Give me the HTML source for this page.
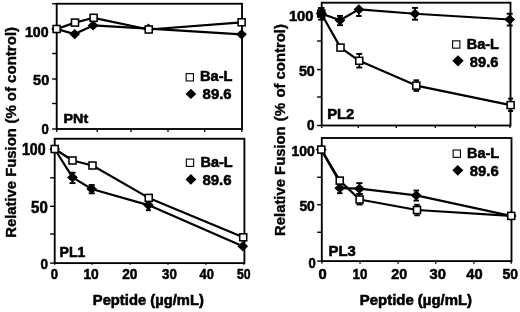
<!DOCTYPE html>
<html><head><meta charset="utf-8"><title>Figure</title>
<style>
html,body{margin:0;padding:0;background:#fff;}
svg{display:block;filter:grayscale(1) blur(0.3px);}
text{font-family:"Liberation Sans",Arial,Helvetica,sans-serif;font-weight:bold;fill:#000;stroke:#000;stroke-width:0.55px;}
text.v{stroke-width:0.35px;}
</style></head><body>
<svg width="520" height="312" viewBox="0 0 520 312" stroke="#000">
<rect x="0" y="0" width="520" height="312" fill="#fff" stroke="none"/>
<rect x="56.70" y="3.75" width="185.30" height="125.25" fill="none" stroke-width="1.85"/>
<line x1="56.80" y1="129.00" x2="56.80" y2="132.00" stroke-width="1.3"/>
<line x1="97.20" y1="129.00" x2="97.20" y2="132.00" stroke-width="1.3"/>
<line x1="131.00" y1="129.00" x2="131.00" y2="132.00" stroke-width="1.3"/>
<line x1="168.00" y1="129.00" x2="168.00" y2="132.00" stroke-width="1.3"/>
<line x1="204.70" y1="129.00" x2="204.70" y2="132.00" stroke-width="1.3"/>
<line x1="241.80" y1="129.00" x2="241.80" y2="132.00" stroke-width="1.3"/>
<line x1="52.10" y1="3.75" x2="56.70" y2="3.75" stroke-width="1.4"/>
<line x1="52.10" y1="28.75" x2="56.70" y2="28.75" stroke-width="1.4"/>
<line x1="52.10" y1="53.50" x2="56.70" y2="53.50" stroke-width="1.4"/>
<line x1="52.10" y1="79.00" x2="56.70" y2="79.00" stroke-width="1.4"/>
<line x1="52.10" y1="103.50" x2="56.70" y2="103.50" stroke-width="1.4"/>
<line x1="52.10" y1="129.00" x2="56.70" y2="129.00" stroke-width="1.4"/>
<polyline points="56.60,29.00 74.70,34.10 93.10,25.40 148.50,28.70 241.50,34.30" fill="none" stroke-width="2.2" stroke-linejoin="round"/>
<polyline points="56.60,29.00 75.00,22.60 93.60,17.80 148.75,29.50 241.60,22.30" fill="none" stroke-width="2.2" stroke-linejoin="round"/>
<polygon points="51.20,29.00 56.60,23.90 62.00,29.00 56.60,34.10" fill="#000" stroke="none"/>
<polygon points="69.30,34.10 74.70,29.00 80.10,34.10 74.70,39.20" fill="#000" stroke="none"/>
<polygon points="87.70,25.40 93.10,20.30 98.50,25.40 93.10,30.50" fill="#000" stroke="none"/>
<polygon points="143.10,28.70 148.50,23.60 153.90,28.70 148.50,33.80" fill="#000" stroke="none"/>
<polygon points="236.10,34.30 241.50,29.20 246.90,34.30 241.50,39.40" fill="#000" stroke="none"/>
<rect x="53.10" y="25.50" width="7.0" height="7.0" fill="#fff" stroke-width="1.55"/>
<rect x="71.50" y="19.10" width="7.0" height="7.0" fill="#fff" stroke-width="1.55"/>
<rect x="90.10" y="14.30" width="7.0" height="7.0" fill="#fff" stroke-width="1.55"/>
<rect x="145.25" y="26.00" width="7.0" height="7.0" fill="#fff" stroke-width="1.55"/>
<rect x="238.10" y="18.80" width="7.0" height="7.0" fill="#fff" stroke-width="1.55"/>
<text transform="translate(25.00,36.50) scale(0.9496,1)" font-size="14.90">100</text>
<text transform="translate(33.10,85.30) scale(0.9717,1)" font-size="14.90">50</text>
<text transform="translate(41.40,134.10) scale(0.8728,1)" font-size="15.04">0</text>
<text transform="translate(63.55,123.10) scale(1.0748,1)" font-size="13.37">PNt</text>
<rect x="186.15" y="73.65" width="7.3" height="7.3" fill="#fff" stroke-width="1.1"/>
<text transform="translate(200.10,81.20) scale(1.0342,1)" font-size="14.10">Ba-L</text>
<polygon points="185.50,93.90 190.90,88.80 196.30,93.90 190.90,99.00" fill="#000" stroke="none"/>
<text transform="translate(202.60,99.30) scale(1.0198,1)" font-size="14.61">89.6</text>
<rect x="54.70" y="138.75" width="189.70" height="124.35" fill="none" stroke-width="1.85"/>
<line x1="54.70" y1="263.10" x2="54.70" y2="264.80" stroke-width="1.3"/>
<line x1="92.00" y1="263.10" x2="92.00" y2="264.80" stroke-width="1.3"/>
<line x1="130.00" y1="263.10" x2="130.00" y2="264.80" stroke-width="1.3"/>
<line x1="168.00" y1="263.10" x2="168.00" y2="264.80" stroke-width="1.3"/>
<line x1="206.00" y1="263.10" x2="206.00" y2="264.80" stroke-width="1.3"/>
<line x1="243.75" y1="263.10" x2="243.75" y2="264.80" stroke-width="1.3"/>
<line x1="50.10" y1="149.00" x2="54.70" y2="149.00" stroke-width="1.4"/>
<line x1="50.10" y1="177.80" x2="54.70" y2="177.80" stroke-width="1.4"/>
<line x1="50.10" y1="206.30" x2="54.70" y2="206.30" stroke-width="1.4"/>
<line x1="50.10" y1="234.00" x2="54.70" y2="234.00" stroke-width="1.4"/>
<line x1="50.10" y1="263.10" x2="54.70" y2="263.10" stroke-width="1.4"/>
<polyline points="54.70,149.00 72.50,177.40 91.70,189.00 148.40,205.10 242.80,246.30" fill="none" stroke-width="2.2" stroke-linejoin="round"/>
<polyline points="54.70,149.00 72.50,160.50 92.50,165.50 148.75,197.90 243.20,237.30" fill="none" stroke-width="2.2" stroke-linejoin="round"/>
<line x1="72.50" y1="172.70" x2="72.50" y2="183.10" stroke-width="1.6"/>
<line x1="69.50" y1="172.70" x2="75.50" y2="172.70" stroke-width="1.9"/>
<line x1="69.50" y1="183.10" x2="75.50" y2="183.10" stroke-width="1.9"/>
<line x1="91.70" y1="185.00" x2="91.70" y2="193.30" stroke-width="1.6"/>
<line x1="88.70" y1="185.00" x2="94.70" y2="185.00" stroke-width="1.9"/>
<line x1="88.70" y1="193.30" x2="94.70" y2="193.30" stroke-width="1.9"/>
<line x1="148.40" y1="199.00" x2="148.40" y2="210.20" stroke-width="1.6"/>
<line x1="145.90" y1="199.00" x2="150.90" y2="199.00" stroke-width="1.9"/>
<line x1="145.90" y1="210.20" x2="150.90" y2="210.20" stroke-width="1.9"/>
<polygon points="49.30,149.00 54.70,143.90 60.10,149.00 54.70,154.10" fill="#000" stroke="none"/>
<polygon points="67.10,177.40 72.50,172.30 77.90,177.40 72.50,182.50" fill="#000" stroke="none"/>
<polygon points="86.30,189.00 91.70,183.90 97.10,189.00 91.70,194.10" fill="#000" stroke="none"/>
<polygon points="143.00,205.10 148.40,200.00 153.80,205.10 148.40,210.20" fill="#000" stroke="none"/>
<polygon points="237.40,246.30 242.80,241.20 248.20,246.30 242.80,251.40" fill="#000" stroke="none"/>
<rect x="51.20" y="145.50" width="7.0" height="7.0" fill="#fff" stroke-width="1.55"/>
<rect x="69.00" y="157.00" width="7.0" height="7.0" fill="#fff" stroke-width="1.55"/>
<rect x="89.00" y="162.00" width="7.0" height="7.0" fill="#fff" stroke-width="1.55"/>
<rect x="145.25" y="194.40" width="7.0" height="7.0" fill="#fff" stroke-width="1.55"/>
<rect x="239.70" y="233.80" width="7.0" height="7.0" fill="#fff" stroke-width="1.55"/>
<text transform="translate(21.90,155.30) scale(0.9060,1)" font-size="15.62">100</text>
<text transform="translate(31.10,212.90) scale(0.9444,1)" font-size="15.90">50</text>
<text transform="translate(40.50,268.50) scale(0.9053,1)" font-size="14.90">0</text>
<text transform="translate(59.60,257.00) scale(1.0082,1)" font-size="13.95">PL1</text>
<text transform="translate(50.70,279.20) scale(0.8728,1)" font-size="15.04">0</text>
<text transform="translate(83.40,279.20) scale(0.9206,1)" font-size="15.04">10</text>
<text transform="translate(122.20,279.20) scale(0.9087,1)" font-size="15.04">20</text>
<text transform="translate(162.00,279.20) scale(0.8848,1)" font-size="15.04">30</text>
<text transform="translate(199.50,279.20) scale(0.8549,1)" font-size="15.04">40</text>
<text transform="translate(237.00,279.20) scale(0.8130,1)" font-size="15.04">50</text>
<text transform="translate(92.80,304.75) scale(1.0168,1)" font-size="14.53">Peptide (µg/mL)</text>
<rect x="186.35" y="159.10" width="7.3" height="7.3" fill="#fff" stroke-width="1.1"/>
<text transform="translate(200.55,167.25) scale(1.0210,1)" font-size="14.17">Ba-L</text>
<polygon points="185.50,179.40 190.90,174.10 196.30,179.40 190.90,184.70" fill="#000" stroke="none"/>
<text transform="translate(202.40,185.00) scale(0.9881,1)" font-size="15.19">89.6</text>
<rect x="321.70" y="2.70" width="188.80" height="122.80" fill="none" stroke-width="1.85"/>
<line x1="321.70" y1="125.50" x2="321.70" y2="128.00" stroke-width="1.3"/>
<line x1="358.30" y1="125.50" x2="358.30" y2="128.00" stroke-width="1.3"/>
<line x1="396.25" y1="125.50" x2="396.25" y2="128.00" stroke-width="1.3"/>
<line x1="435.30" y1="125.50" x2="435.30" y2="128.00" stroke-width="1.3"/>
<line x1="475.30" y1="125.50" x2="475.30" y2="128.00" stroke-width="1.3"/>
<line x1="510.00" y1="125.50" x2="510.00" y2="128.00" stroke-width="1.3"/>
<line x1="317.10" y1="14.00" x2="321.70" y2="14.00" stroke-width="1.4"/>
<line x1="317.10" y1="41.00" x2="321.70" y2="41.00" stroke-width="1.4"/>
<line x1="317.10" y1="69.60" x2="321.70" y2="69.60" stroke-width="1.4"/>
<line x1="317.10" y1="97.00" x2="321.70" y2="97.00" stroke-width="1.4"/>
<line x1="317.10" y1="125.50" x2="321.70" y2="125.50" stroke-width="1.4"/>
<polyline points="321.25,13.50 340.00,20.30 358.90,9.40 415.00,13.75 509.70,19.50" fill="none" stroke-width="2.2" stroke-linejoin="round"/>
<polyline points="321.25,13.50 340.50,47.60 359.25,60.80 416.30,85.60 510.60,105.10" fill="none" stroke-width="2.2" stroke-linejoin="round"/>
<line x1="321.25" y1="8.00" x2="321.25" y2="19.60" stroke-width="2.0"/>
<line x1="318.00" y1="8.00" x2="324.50" y2="8.00" stroke-width="1.9"/>
<line x1="318.00" y1="19.60" x2="324.50" y2="19.60" stroke-width="1.9"/>
<line x1="340.00" y1="15.90" x2="340.00" y2="25.20" stroke-width="1.6"/>
<line x1="337.00" y1="15.90" x2="343.00" y2="15.90" stroke-width="1.9"/>
<line x1="337.00" y1="25.20" x2="343.00" y2="25.20" stroke-width="1.9"/>
<line x1="358.90" y1="9.40" x2="358.90" y2="16.00" stroke-width="1.6"/>
<line x1="356.15" y1="9.40" x2="361.65" y2="9.40" stroke-width="1.9"/>
<line x1="356.15" y1="16.00" x2="361.65" y2="16.00" stroke-width="1.9"/>
<line x1="415.00" y1="7.90" x2="415.00" y2="19.70" stroke-width="1.6"/>
<line x1="412.00" y1="7.90" x2="418.00" y2="7.90" stroke-width="1.9"/>
<line x1="412.00" y1="19.70" x2="418.00" y2="19.70" stroke-width="1.9"/>
<line x1="509.70" y1="13.75" x2="509.70" y2="25.50" stroke-width="1.6"/>
<line x1="506.70" y1="13.75" x2="512.70" y2="13.75" stroke-width="1.9"/>
<line x1="506.70" y1="25.50" x2="512.70" y2="25.50" stroke-width="1.9"/>
<line x1="359.25" y1="53.90" x2="359.25" y2="67.50" stroke-width="1.6"/>
<line x1="356.25" y1="53.90" x2="362.25" y2="53.90" stroke-width="1.9"/>
<line x1="356.25" y1="67.50" x2="362.25" y2="67.50" stroke-width="1.9"/>
<line x1="416.30" y1="80.30" x2="416.30" y2="90.90" stroke-width="1.6"/>
<line x1="413.55" y1="80.30" x2="419.05" y2="80.30" stroke-width="1.9"/>
<line x1="413.55" y1="90.90" x2="419.05" y2="90.90" stroke-width="1.9"/>
<line x1="510.60" y1="98.60" x2="510.60" y2="111.00" stroke-width="1.6"/>
<line x1="508.10" y1="98.60" x2="513.10" y2="98.60" stroke-width="1.9"/>
<line x1="508.10" y1="111.00" x2="513.10" y2="111.00" stroke-width="1.9"/>
<rect x="317.75" y="10.00" width="7.0" height="7.0" fill="#fff" stroke-width="1.55"/>
<rect x="337.00" y="44.10" width="7.0" height="7.0" fill="#fff" stroke-width="1.55"/>
<rect x="355.75" y="57.30" width="7.0" height="7.0" fill="#fff" stroke-width="1.55"/>
<rect x="412.80" y="82.10" width="7.0" height="7.0" fill="#fff" stroke-width="1.55"/>
<rect x="507.10" y="101.60" width="7.0" height="7.0" fill="#fff" stroke-width="1.55"/>
<polygon points="334.60,20.30 340.00,15.20 345.40,20.30 340.00,25.40" fill="#000" stroke="none"/>
<polygon points="353.50,9.40 358.90,4.30 364.30,9.40 358.90,14.50" fill="#000" stroke="none"/>
<polygon points="409.60,13.75 415.00,8.65 420.40,13.75 415.00,18.85" fill="#000" stroke="none"/>
<polygon points="504.30,19.50 509.70,14.40 515.10,19.50 509.70,24.60" fill="#000" stroke="none"/>
<polygon points="315.70,13.60 321.30,7.90 326.90,13.60 321.30,19.30" fill="#000" stroke="none"/>
<text transform="translate(288.90,20.70) scale(0.9804,1)" font-size="15.04">100</text>
<text transform="translate(298.90,75.90) scale(0.9690,1)" font-size="14.76">50</text>
<text transform="translate(307.00,129.80) scale(0.9322,1)" font-size="14.47">0</text>
<text transform="translate(327.20,118.50) scale(1.0442,1)" font-size="14.10">PL2</text>
<rect x="452.60" y="40.85" width="7.3" height="7.3" fill="#fff" stroke-width="1.1"/>
<text transform="translate(466.80,48.75) scale(1.0210,1)" font-size="14.17">Ba-L</text>
<polygon points="452.30,60.80 458.00,55.20 463.70,60.80 458.00,66.40" fill="#000" stroke="none"/>
<text transform="translate(469.80,67.10) scale(0.9498,1)" font-size="15.47">89.6</text>
<rect x="321.80" y="138.00" width="189.70" height="123.10" fill="none" stroke-width="1.85"/>
<line x1="321.90" y1="261.10" x2="321.90" y2="263.70" stroke-width="1.3"/>
<line x1="360.00" y1="261.10" x2="360.00" y2="263.70" stroke-width="1.3"/>
<line x1="398.00" y1="261.10" x2="398.00" y2="263.70" stroke-width="1.3"/>
<line x1="435.80" y1="261.10" x2="435.80" y2="263.70" stroke-width="1.3"/>
<line x1="474.00" y1="261.10" x2="474.00" y2="263.70" stroke-width="1.3"/>
<line x1="511.20" y1="261.10" x2="511.20" y2="263.70" stroke-width="1.3"/>
<line x1="317.20" y1="149.25" x2="321.80" y2="149.25" stroke-width="1.4"/>
<line x1="317.20" y1="177.25" x2="321.80" y2="177.25" stroke-width="1.4"/>
<line x1="317.20" y1="204.75" x2="321.80" y2="204.75" stroke-width="1.4"/>
<line x1="317.20" y1="232.25" x2="321.80" y2="232.25" stroke-width="1.4"/>
<line x1="317.20" y1="261.10" x2="321.80" y2="261.10" stroke-width="1.4"/>
<polyline points="339.75,188.10 359.40,188.70 416.25,195.40 511.25,215.90" fill="none" stroke-width="2.2" stroke-linejoin="round"/>
<polyline points="321.25,149.60 339.75,180.60 359.60,199.50 417.00,210.00 511.25,215.90" fill="none" stroke-width="2.2" stroke-linejoin="round"/>
<polyline points="321.40,149.60 339.60,182.00" fill="none" stroke-width="2.3" stroke-linejoin="round"/>
<line x1="339.75" y1="184.00" x2="339.75" y2="193.20" stroke-width="1.6"/>
<line x1="337.00" y1="184.00" x2="342.50" y2="184.00" stroke-width="1.9"/>
<line x1="337.00" y1="193.20" x2="342.50" y2="193.20" stroke-width="1.9"/>
<line x1="359.40" y1="183.10" x2="359.40" y2="194.00" stroke-width="1.6"/>
<line x1="356.30" y1="183.10" x2="362.50" y2="183.10" stroke-width="1.9"/>
<line x1="356.30" y1="194.00" x2="362.50" y2="194.00" stroke-width="1.9"/>
<line x1="359.60" y1="194.00" x2="359.60" y2="204.50" stroke-width="1.6"/>
<line x1="356.60" y1="194.00" x2="362.60" y2="194.00" stroke-width="1.9"/>
<line x1="356.60" y1="204.50" x2="362.60" y2="204.50" stroke-width="1.9"/>
<line x1="416.25" y1="190.50" x2="416.25" y2="200.60" stroke-width="1.6"/>
<line x1="413.50" y1="190.50" x2="419.00" y2="190.50" stroke-width="1.9"/>
<line x1="413.50" y1="200.60" x2="419.00" y2="200.60" stroke-width="1.9"/>
<line x1="417.00" y1="204.80" x2="417.00" y2="215.30" stroke-width="1.6"/>
<line x1="414.25" y1="204.80" x2="419.75" y2="204.80" stroke-width="1.9"/>
<line x1="414.25" y1="215.30" x2="419.75" y2="215.30" stroke-width="1.9"/>
<polygon points="315.85,149.60 321.25,144.50 326.65,149.60 321.25,154.70" fill="#000" stroke="none"/>
<polygon points="334.35,188.10 339.75,183.00 345.15,188.10 339.75,193.20" fill="#000" stroke="none"/>
<polygon points="354.00,188.70 359.40,183.60 364.80,188.70 359.40,193.80" fill="#000" stroke="none"/>
<polygon points="410.85,195.40 416.25,190.30 421.65,195.40 416.25,200.50" fill="#000" stroke="none"/>
<polygon points="505.85,215.90 511.25,210.80 516.65,215.90 511.25,221.00" fill="#000" stroke="none"/>
<rect x="317.75" y="146.10" width="7.0" height="7.0" fill="#fff" stroke-width="1.55"/>
<rect x="336.25" y="177.10" width="7.0" height="7.0" fill="#fff" stroke-width="1.55"/>
<rect x="356.10" y="196.00" width="7.0" height="7.0" fill="#fff" stroke-width="1.55"/>
<rect x="413.50" y="206.50" width="7.0" height="7.0" fill="#fff" stroke-width="1.55"/>
<rect x="507.75" y="212.40" width="7.0" height="7.0" fill="#fff" stroke-width="1.55"/>
<text transform="translate(291.40,156.00) scale(0.9198,1)" font-size="15.19">100</text>
<text transform="translate(299.40,211.30) scale(0.9667,1)" font-size="14.33">50</text>
<text transform="translate(308.45,268.05) scale(0.9147,1)" font-size="14.26">0</text>
<text transform="translate(328.50,255.60) scale(1.0345,1)" font-size="14.39">PL3</text>
<text transform="translate(318.40,278.80) scale(0.9994,1)" font-size="14.76">0</text>
<text transform="translate(352.60,278.80) scale(0.9019,1)" font-size="14.76">10</text>
<text transform="translate(391.20,278.80) scale(0.9690,1)" font-size="14.76">20</text>
<text transform="translate(429.60,278.80) scale(0.9994,1)" font-size="14.76">30</text>
<text transform="translate(466.30,278.80) scale(0.9933,1)" font-size="14.76">40</text>
<text transform="translate(502.60,278.80) scale(0.9446,1)" font-size="14.76">50</text>
<text transform="translate(359.80,304.75) scale(1.0282,1)" font-size="14.53">Peptide (µg/mL)</text>
<rect x="453.15" y="150.05" width="7.3" height="7.3" fill="#fff" stroke-width="1.1"/>
<text transform="translate(467.00,158.10) scale(0.9970,1)" font-size="14.53">Ba-L</text>
<polygon points="452.30,170.30 457.80,164.90 463.30,170.30 457.80,175.70" fill="#000" stroke="none"/>
<text transform="translate(469.80,176.40) scale(0.9779,1)" font-size="15.19">89.6</text>
<text transform="translate(15.80,237.80) rotate(-90) scale(1.0110,1)" font-size="14.68" class="v">Relative Fusion</text>
<text transform="translate(15.80,123.60) rotate(-90) scale(1.0313,1)" font-size="14.68" class="v">(%</text>
<text transform="translate(15.80,101.30) rotate(-90) scale(1.0267,1)" font-size="14.68" class="v">of control)</text>
<text transform="translate(284.70,235.90) rotate(-90) scale(0.9910,1)" font-size="14.97" class="v">Relative Fusion</text>
<text transform="translate(284.70,121.30) rotate(-90) scale(1.0112,1)" font-size="14.97" class="v">(%</text>
<text transform="translate(284.70,97.60) rotate(-90) scale(0.9946,1)" font-size="14.97" class="v">of control)</text>
</svg>
</body></html>
